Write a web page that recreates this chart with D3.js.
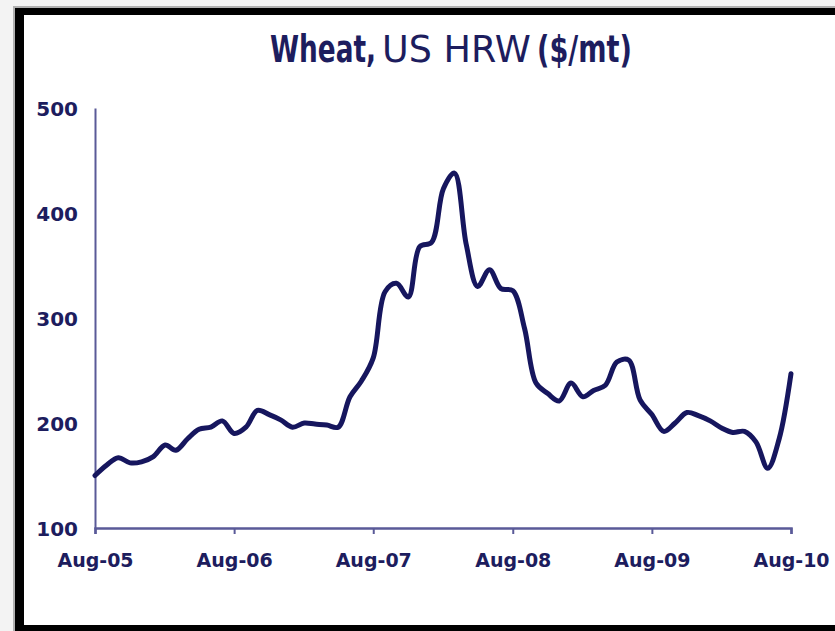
<!DOCTYPE html>
<html>
<head>
<meta charset="utf-8">
<script src="https://cdn.jsdelivr.net/npm/d3@7"></script>
<style>
  body { margin: 0; background: #ffffff; }
  svg { display: block; }
</style>
</head>
<body>
<div class="chart"></div>
<script>
// monthly price, Aug-05 .. Aug-10 ($/mt)
var startMonth = "2005-08";
var prices = [
    150, 160, 167, 162, 163, 168, 179, 174, 185, 194, 196, 202,
    190, 196, 212, 208, 203, 196, 200, 199, 198, 196, 225, 240,
    262, 325, 333, 320, 368, 372, 423, 438, 370, 330, 346, 328,
    326, 290, 238, 228, 221, 238, 225, 231, 236, 258, 260, 222,
    208, 192, 200, 210, 207, 202, 195, 191, 192, 182, 157, 185,
    247
];
var xTickLabels = ["Aug-05", "Aug-06", "Aug-07", "Aug-08", "Aug-09", "Aug-10"];
var yTicks = [100, 200, 300, 400, 500];
var titleParts = ["Wheat,", "US HRW", "($/mt)"];

var W = 835, H = 631;
var navy = "#16165e", axisColor = "#5a5a98", textColor = "#1d1d5e";

var parse = d3.timeParse("%Y-%m");
var start = parse(startMonth);
var data = prices.map(function (v, i) {
    return { date: d3.timeMonth.offset(start, i), value: v };
});
var tickDates = xTickLabels.map(function (d, i) { return d3.timeYear.offset(start, i); });

var x = d3.scaleTime().domain([tickDates[0], tickDates[tickDates.length - 1]]).range([95, 791]);
var y = d3.scaleLinear().domain([100, 500]).range([528, 108]);

var svg = d3.select(".chart").append("svg")
    .attr("width", W)
    .attr("height", H);

// page background and thick black frame (right edge runs off the picture)
svg.append("rect").attr("width", W).attr("height", H).attr("fill", "#f3f3f3");
svg.append("rect").attr("x", 13).attr("y", 6).attr("width", W - 13).attr("height", H - 6).attr("fill", "#b0b0b0");
svg.append("rect").attr("x", 15).attr("y", 8).attr("width", W - 15).attr("height", H - 8).attr("fill", "#000");
svg.append("rect").attr("x", 24).attr("y", 15).attr("width", W - 24).attr("height", 625 - 15).attr("fill", "#fff");

// title in three pieces, each squeezed to its width in the original
var titlePos = [
    { x: 270, w: 106, weight: "bold" },
    { x: 382, w: 149, weight: "normal" },
    { x: 537, w: 95, weight: "bold" }
];
svg.selectAll(".title")
    .data(titleParts)
    .enter().append("text")
    .attr("class", "title")
    .attr("fill", textColor)
    .style("font-family", "'DejaVu Sans', sans-serif")
    .style("font-size", "37px")
    .style("font-weight", function (d, i) { return titlePos[i].weight; })
    .text(function (d) { return d; })
    .attr("transform", function (d, i) {
        var len = this.getComputedTextLength();
        return "translate(" + titlePos[i].x + ",62) scale(" + (titlePos[i].w / len) + ",1)";
    });

// x axis
var xAxis = d3.axisBottom(x)
    .tickValues(tickDates)
    .tickFormat(function (d, i) { return xTickLabels[i]; })
    .tickSizeOuter(0)
    .tickSize(6);

var gx = svg.append("g")
    .attr("transform", "translate(0," + y(100) + ")")
    .call(xAxis);
gx.select(".domain").attr("stroke", axisColor).attr("stroke-width", 2.5);
gx.selectAll(".tick line").attr("stroke", axisColor).attr("stroke-width", 2);
gx.selectAll(".tick text")
    .attr("y", 39)
    .attr("dy", 0)
    .attr("fill", textColor)
    .style("font-family", "'DejaVu Sans', sans-serif")
    .style("font-weight", "bold")
    .style("font-size", "19px");

// y axis
var yAxis = d3.axisLeft(y)
    .tickValues(yTicks)
    .tickSize(0)
    .tickPadding(17);

var gy = svg.append("g")
    .attr("transform", "translate(" + x.range()[0] + ",0)")
    .call(yAxis);
gy.select(".domain").attr("stroke", axisColor).attr("stroke-width", 2);
gy.selectAll(".tick text")
    .attr("dy", "0.36em")
    .attr("fill", textColor)
    .style("font-family", "'DejaVu Sans', sans-serif")
    .style("font-weight", "bold")
    .style("font-size", "20px");

// price line
var line = d3.line()
    .x(function (d) { return x(d.date); })
    .y(function (d) { return y(d.value); })
    .curve(d3.curveCatmullRom.alpha(0.5));

svg.append("path")
    .datum(data)
    .attr("fill", "none")
    .attr("stroke", navy)
    .attr("stroke-width", 5)
    .attr("stroke-linejoin", "round")
    .attr("stroke-linecap", "round")
    .attr("d", line);
</script>
</body>
</html>
